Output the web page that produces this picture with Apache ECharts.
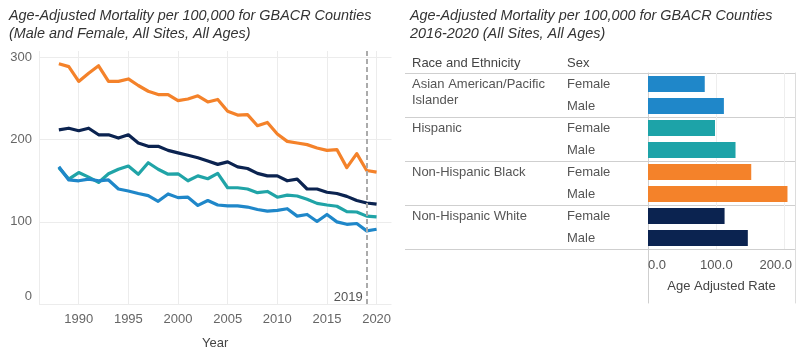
<!DOCTYPE html>
<html>
<head>
<meta charset="utf-8">
<script src="https://cdn.jsdelivr.net/npm/echarts@6/dist/echarts.min.js"></script>
<style>html,body{margin:0;padding:0;background:#fff}#c{width:800px;height:355px}</style>
</head>
<body>
<div id="c"></div>
<script>
// ---------- data ----------
const years = [1988,1989,1990,1991,1992,1993,1994,1995,1996,1997,1998,1999,2000,2001,2002,2003,2004,2005,2006,2007,2008,2009,2010,2011,2012,2013,2014,2015,2016,2017,2018,2019,2020];
const lineNames = ['Non-Hispanic Black','Non-Hispanic White','Hispanic','Asian American/Pacific Islander'];
const blackRates = [292.5,289,271,281,290,271,271,274,266,259,255,255,247.6,249.6,253.5,246,249,234.6,230,230.6,217,221,207,198,196,194,190,187,188,166,183,162.5,160.5];
const whiteRates = [212,214,211,214,206,206,202,206,196,192,192,187,184,181,178,174,170,173,167,165,159,156,156,150,152,140,140,136,134.5,131,126,123,121.5];
const hispanicRates = [166,152,160,154.5,148,158.5,164,168,158,172,164,158,158.5,150,156,152.5,159,141.5,141.5,140,135.5,137,130,132.5,131.5,127.5,122.5,120.5,119,112.5,112,107,106];
const asianRates = [167,151,150,152,150,151,140,137.5,134.5,132,125,134,129.5,130,120,126,120.5,119.5,119.5,118,115,113,114,116,107,109,100.5,109,100,97,98,89,91];
const markYear = 2019;

const raceGroups = ['Asian American/Pacific\nIslander','Hispanic','Non-Hispanic Black','Non-Hispanic White'];
const sexes = ['Female','Male'];
const barRates = [83,111,98,128,151,204,112,146]; // Asian F,M; Hispanic F,M; Black F,M; White F,M

const leftTitle = 'Age-Adjusted Mortality per 100,000 for GBACR Counties\n(Male and Female, All Sites, All Ages)';
const rightTitle = 'Age-Adjusted Mortality per 100,000 for GBACR Counties\n2016-2020 (All Sites, All Ages)';
const headerRace = 'Race and Ethnicity';
const headerSex = 'Sex';
const xName = 'Year';
const barAxisName = 'Age Adjusted Rate';

// ---------- styles ----------
const FONT = "'Liberation Sans', Arial, sans-serif";
const lineColors = ['#F4822A','#0B2350','#20A4A7','#1F87C9'];
const raceColors = ['#1F87C9','#1DA3A8','#F4822A','#0B2350'];
const barMax = 215;

const lineData = [blackRates, whiteRates, hispanicRates, asianRates];

const rowKeys = [];
const barData = [];
raceGroups.forEach((r, i) => {
  sexes.forEach((s, j) => {
    rowKeys.push(r + '|' + s);
    barData.push({ value: barRates[i * 2 + j], itemStyle: { color: raceColors[i] } });
  });
});

const chart = echarts.init(document.getElementById('c'), null, { renderer: 'canvas' });

const lineSeries = lineData.map((arr, k) => {
  const s = {
    name: lineNames[k],
    type: 'line',
    xAxisIndex: 0, yAxisIndex: 0,
    data: years.map((y, i) => [y, arr[i]]),
    showSymbol: false,
    symbol: 'none',
    lineStyle: { width: 3.2, color: lineColors[k], join: 'round' },
    itemStyle: { color: lineColors[k] },
    z: 3
  };
  if (k === 0) {
    s.markLine = {
      silent: true,
      symbol: ['none', 'none'],
      lineStyle: { type: [5, 3], color: '#ababab', width: 2 },
      label: { show: false },
      data: [{ xAxis: markYear }]
    };
    s.markPoint = {
      silent: true,
      symbol: 'rect',
      symbolSize: 0,
      data: [{ coord: [markYear, 0] }],
      label: {
        show: true, position: 'left', distance: 4, offset: [0, -7],
        formatter: String(markYear), color: '#555', fontSize: 13, fontFamily: FONT
      }
    };
  }
  return s;
});

const titleStyle = { fontSize: 14.4, fontStyle: 'italic', fontWeight: 'normal', color: '#333', lineHeight: 18, fontFamily: FONT };
const headStyle = { fontSize: 13, fontWeight: 'normal', color: '#444', lineHeight: 16, fontFamily: FONT };

const option = {
  animation: false,
  textStyle: { fontFamily: FONT },
  title: [
    { text: leftTitle, left: 9, top: 7, padding: 0, textStyle: titleStyle },
    { text: rightTitle, left: 410, top: 7, padding: 0, textStyle: titleStyle },
    { text: headerRace, left: 412, top: 55, padding: 0, textStyle: headStyle },
    { text: headerSex, left: 567, top: 55, padding: 0, textStyle: headStyle }
  ],
  grid: [
    { left: 39, top: 51, width: 352.5, height: 254 },
    { left: 405, top: 73, width: 243, height: 176 },
    { left: 648, top: 73, width: 147, height: 176 },
    { left: 648, top: 249, width: 147, height: 54 }
  ],
  xAxis: [
    { gridIndex: 0, type: 'value', min: 1986, max: 2021.5, minInterval: 5, maxInterval: 5,
      axisLine: { show: false }, axisTick: { show: false },
      splitLine: { show: true, showMaxLine: false, lineStyle: { color: '#ececec', width: 1 } },
      axisLabel: { showMinLabel: false, showMaxLabel: false, color: '#666', fontSize: 13, margin: 9, fontFamily: FONT,
        formatter: v => String(v) },
      name: xName, nameLocation: 'middle', nameGap: 33,
      nameTextStyle: { color: '#444', fontSize: 13, fontFamily: FONT } },
    { gridIndex: 1, type: 'value', show: false, min: 0, max: 1 },
    { gridIndex: 2, type: 'value', min: 0, max: barMax, interval: 100,
      axisLine: { show: false }, axisTick: { show: false },
      splitLine: { show: true, showMinLine: false, showMaxLine: false, lineStyle: { color: '#eeeeee', width: 1 } },
      axisLabel: {
        showMaxLabel: false, alignMinLabel: 'left', color: '#555', fontSize: 13, margin: 10, fontFamily: FONT,
        formatter: v => (v > 0 && v + 100 > barMax) ? '{s|' + v.toFixed(1) + '}' : v.toFixed(1),
        rich: { s: { padding: [0, 18, 0, 0], fontSize: 13, color: '#555', fontFamily: FONT } }
      },
      name: barAxisName, nameLocation: 'middle', nameGap: 31,
      nameTextStyle: { color: '#444', fontSize: 13, fontFamily: FONT } },
    { gridIndex: 3, type: 'value', show: false, min: 0, max: 1 }
  ],
  yAxis: [
    { gridIndex: 0, type: 'value', min: 0, max: 308, interval: 100,
      axisLine: { show: false }, axisTick: { show: false },
      splitLine: { show: true, showMaxLine: false, lineStyle: { color: '#ececec', width: 1 } },
      axisLabel: {
        showMaxLabel: false, color: '#666', fontSize: 13, margin: 7, fontFamily: FONT,
        formatter: v => v === 0 ? '{z|0}' : String(v),
        rich: { z: { padding: [0, 0, 15, 0], fontSize: 13, color: '#666', fontFamily: FONT } }
      } },
    { gridIndex: 1, type: 'category', data: rowKeys, inverse: true, position: 'left',
      axisLine: { show: false }, axisTick: { show: false },
      splitLine: { show: true, interval: (idx) => idx % 2 === 0, lineStyle: { color: '#cfcfcf', width: 1 } },
      axisLabel: {
        inside: true, margin: 7, interval: 0, align: 'left', verticalAlign: 'top',
        lineHeight: 16, padding: [-8, 0, 0, 0],
        color: '#555', fontSize: 13, fontFamily: FONT,
        formatter: v => { const p = v.split('|'); return p[1] === sexes[0] ? p[0] : ''; }
      } },
    { gridIndex: 1, type: 'category', data: rowKeys, inverse: true, position: 'left',
      axisLine: { show: false, onZero: false }, axisTick: { show: false }, splitLine: { show: false },
      axisLabel: {
        inside: true, margin: 162, interval: 0, align: 'left',
        color: '#555', fontSize: 13, fontFamily: FONT,
        formatter: v => v.split('|')[1]
      } },
    { gridIndex: 2, type: 'category', data: rowKeys, inverse: true, position: 'left',
      axisLine: { show: true, onZero: false, lineStyle: { color: '#cfcfcf', width: 1 } },
      axisTick: { show: false }, axisLabel: { show: false },
      splitLine: { show: true, interval: (idx) => idx % 2 === 0 && idx < rowKeys.length, lineStyle: { color: '#cfcfcf', width: 1 } } },
    { gridIndex: 2, type: 'category', data: rowKeys, inverse: true, position: 'right',
      axisLine: { show: true, onZero: false, lineStyle: { color: '#dcdcdc', width: 1 } },
      axisTick: { show: false }, axisLabel: { show: false }, splitLine: { show: false } },
    { gridIndex: 3, type: 'value', min: 0, max: 1, position: 'left',
      axisLine: { show: true, onZero: false, lineStyle: { color: '#cfcfcf', width: 1 } },
      axisTick: { show: false }, axisLabel: { show: false }, splitLine: { show: false } },
    { gridIndex: 3, type: 'value', min: 0, max: 1, position: 'right',
      axisLine: { show: true, onZero: false, lineStyle: { color: '#dcdcdc', width: 1 } },
      axisTick: { show: false }, axisLabel: { show: false }, splitLine: { show: false } }
  ],
  series: lineSeries.concat([
    { name: barAxisName, type: 'bar', xAxisIndex: 2, yAxisIndex: 3,
      data: barData, barWidth: 16, z: 3 }
  ])
};

chart.setOption(option);
</script>
</body>
</html>
